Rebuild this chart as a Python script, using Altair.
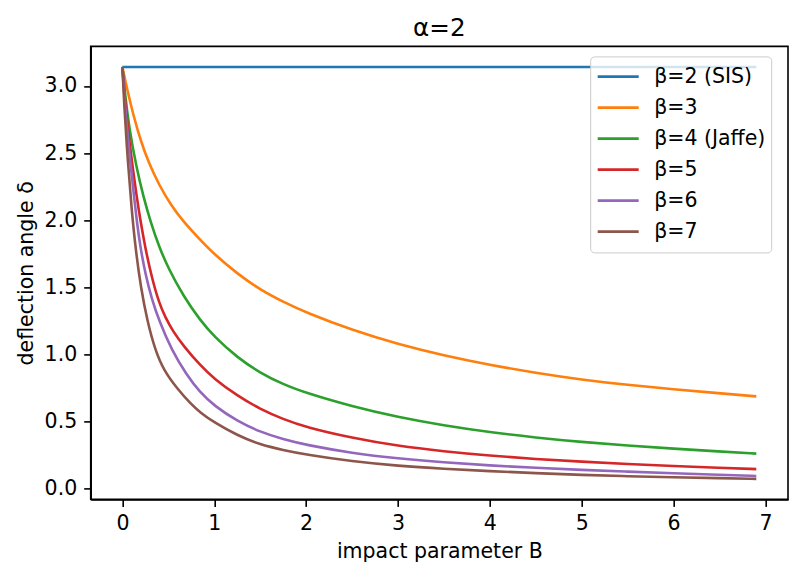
import altair as alt
import pandas as pd

# Deflection angle delta versus impact parameter B, alpha = 2, one curve per beta
labels = ["β=2 (SIS)", "β=3", "β=4 (Jaffe)", "β=5", "β=6", "β=7"]
colors = ["#1f77b4", "#ff7f0e", "#2ca02c", "#d62728", "#9467bd", "#8c564b"]

b2_B = [0.0, 6.9]
b2_d = [3.1416, 3.1416]

b3_B = [0.0, 0.05, 0.12, 0.2, 0.284, 0.4, 0.53, 0.667, 0.844, 1.0, 1.25, 1.5, 1.75,
        2.0, 2.5, 3.0, 3.5, 4.0, 4.5, 5.0, 5.5, 6.0, 6.5, 6.9]
b3_d = [3.1416, 2.98, 2.78, 2.59, 2.43, 2.26, 2.11, 1.985, 1.855, 1.745, 1.6, 1.48, 1.39,
        1.31, 1.18, 1.075, 0.99, 0.92, 0.86, 0.81, 0.77, 0.738, 0.708, 0.685]

b4_B = [0.0, 0.03, 0.073, 0.15, 0.23, 0.31, 0.4, 0.5, 0.667, 0.844, 1.0, 1.25, 1.5,
        1.75, 2.0, 2.5, 3.0, 3.5, 4.0, 4.5, 5.0, 5.5, 6.0, 6.5, 6.9]
b4_d = [3.1416, 2.93, 2.69, 2.40, 2.17, 1.98, 1.80, 1.64, 1.43, 1.255, 1.13, 0.975, 0.86,
        0.775, 0.71, 0.61, 0.53, 0.468, 0.418, 0.378, 0.345, 0.318, 0.295, 0.274, 0.258]

b5_B = [0.0, 0.025, 0.06, 0.101, 0.15, 0.2, 0.25, 0.32, 0.4, 0.464, 0.55, 0.667, 0.844,
        1.0, 1.25, 1.5, 1.75, 2.0, 2.5, 3.0, 3.5, 4.0, 4.5, 5.0, 5.5, 6.0, 6.5, 6.9]
b5_d = [3.1416, 2.92, 2.68, 2.45, 2.20, 1.98, 1.79, 1.57, 1.38, 1.28, 1.17, 1.06, 0.919,
        0.815, 0.69, 0.59, 0.515, 0.455, 0.375, 0.315, 0.275, 0.243, 0.218, 0.198, 0.18,
        0.165, 0.153, 0.143]

b6_B = [0.0, 0.02, 0.05, 0.083, 0.12, 0.16, 0.2, 0.25, 0.32, 0.4, 0.536, 0.7, 0.844,
        1.0, 1.25, 1.5, 1.75, 2.0, 2.5, 3.0, 3.5, 4.0, 4.5, 5.0, 5.5, 6.0, 6.5, 6.9]
b6_d = [3.1416, 2.93, 2.68, 2.45, 2.22, 1.97, 1.78, 1.60, 1.41, 1.25, 1.03, 0.845, 0.715,
        0.615, 0.5, 0.42, 0.365, 0.323, 0.262, 0.222, 0.193, 0.17, 0.152, 0.137, 0.124,
        0.112, 0.101, 0.092]

b7_B = [0.0, 0.02, 0.058, 0.1, 0.145, 0.2, 0.27, 0.357, 0.45, 0.6, 0.75, 0.844, 1.0,
        1.25, 1.5, 1.75, 2.0, 2.5, 3.0, 3.5, 4.0, 4.5, 5.0, 5.5, 6.0, 6.5, 6.9]
b7_d = [3.1416, 2.85, 2.448, 2.08, 1.777, 1.50, 1.25, 1.03, 0.88, 0.74, 0.625, 0.567, 0.49,
        0.395, 0.325, 0.285, 0.25, 0.2, 0.167, 0.145, 0.127, 0.113, 0.099, 0.09, 0.082,
        0.075, 0.07]

series = [(b2_B, b2_d), (b3_B, b3_d), (b4_B, b4_d), (b5_B, b5_d), (b6_B, b6_d), (b7_B, b7_d)]
rows = []
for k, (bs, ds) in enumerate(series):
    for i, (b, d) in enumerate(zip(bs, ds)):
        rows.append({"B": b, "delta": d, "beta": labels[k], "i": i})
df = pd.DataFrame(rows)

FONT = "DejaVu Sans"

lines = alt.Chart(df).mark_line(strokeWidth=2.6, interpolate="basis").encode(
    x=alt.X("B:Q", title="impact parameter B",
            scale=alt.Scale(domain=[-0.345, 7.245], nice=False, zero=False),
            axis=alt.Axis(values=[0, 1, 2, 3, 4, 5, 6, 7], format="d", grid=False)),
    y=alt.Y("delta:Q", title="deflection angle δ",
            scale=alt.Scale(domain=[-0.083, 3.295], nice=False, zero=False),
            axis=alt.Axis(values=[0, 0.5, 1.0, 1.5, 2.0, 2.5, 3.0], format=".1f", grid=False)),
    color=alt.Color("beta:N", sort=labels,
                    scale=alt.Scale(domain=labels, range=colors),
                    legend=alt.Legend(title=None, orient="none", legendX=499.5, legendY=10,
                                      symbolType="stroke", symbolSize=1681,
                                      symbolStrokeWidth=2.6, symbolOffset=1,
                                      clipHeight=30.5, rowPadding=0, labelOffset=14,
                                      labelFontSize=20.5, labelFont=FONT, labelColor="black",
                                      padding=5, fillColor="rgba(255,255,255,0.8)",
                                      strokeColor="#cccccc", cornerRadius=4)),
    order=alt.Order("i:Q"),
)

chart = lines.properties(
    width=697.3, height=453,
    title=alt.TitleParams("α=2", fontSize=24.6, font=FONT, fontWeight="normal",
                          color="black", baseline="bottom", offset=6, dy=25, frame="group"),
    autosize=alt.AutoSizeParams(type="none"),
    padding={"left": 90.7, "top": 46.4, "right": 23, "bottom": 78.6},
    background="white",
).configure_view(
    stroke="black", strokeWidth=1.6
).configure_axis(
    labelFont=FONT, labelFontSize=20.5, labelColor="black",
    titleFont=FONT, titleFontSize=20.5, titleFontWeight="normal", titleColor="black",
    domainColor="black", domainWidth=1.6, tickColor="black", tickWidth=1.6,
    tickSize=7, labelPadding=7, titlePadding=8,
)

chart.save("out.html", embed_options={"renderer": "svg", "actions": False})
